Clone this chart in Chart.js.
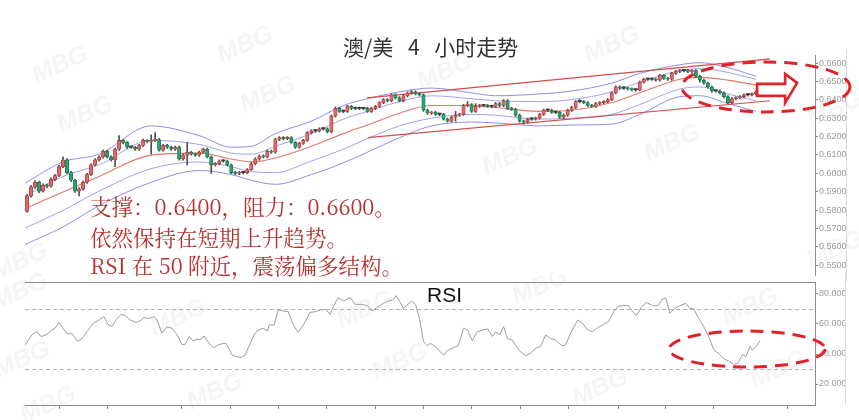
<!DOCTYPE html>
<html>
<head>
<meta charset="utf-8">
<script src="https://cdn.jsdelivr.net/npm/chart.js@4.4.1/dist/chart.umd.min.js"></script>
<style>
  html, body { margin: 0; padding: 0; background: #ffffff; }
  #wrap { position: relative; width: 859px; height: 420px; overflow: hidden; background: #ffffff; }
  #priceChart { position: absolute; left: 0; top: 0; }
  #rsiChart { position: absolute; left: 0; top: 272px; }
</style>
</head>
<body>
<div id="wrap">
  <canvas id="priceChart" width="859" height="282"></canvas>
  <canvas id="rsiChart" width="846" height="148"></canvas>
</div>
<script>
// ---- AUD/USD 4-hour candles (bar index 0 = oldest) ----
const opens = [
  .5792,.5877,.5925,.5951,.5903,.5935,.5930,.5967,.5988,.6036,
  .6073,.6004,.5962,.5903,.5914,.5951,.5993,.6046,.6073,.6089,
  .6120,.6089,.6073,.6131,.6179,.6168,.6142,.6142,.6131,.6152,
  .6179,.6173,.6179,.6184,.6126,.6152,.6142,.6131,.6142,.6078,
  .6099,.6115,.6104,.6099,.6115,.6131,.6089,.6046,.6052,.6067,
  .6067,.6046,.6004,.5999,.6004,.6004,.6020,.6052,.6078,.6094,
  .6089,.6120,.6115,.6184,.6194,.6189,.6194,.6168,.6142,.6163,
  .6179,.6221,.6231,.6231,.6242,.6242,.6226,.6311,.6353,.6337,
  .6337,.6364,.6353,.6353,.6353,.6353,.6337,.6353,.6364,.6385,
  .6401,.6395,.6427,.6411,.6395,.6422,.6438,.6443,.6432,.6427,
  .6343,.6327,.6332,.6321,.6321,.6295,.6284,.6305,.6316,.6321,
  .6369,.6374,.6337,.6364,.6369,.6369,.6364,.6364,.6380,.6369,
  .6395,.6353,.6348,.6316,.6284,.6279,.6295,.6295,.6300,.6321,
  .6343,.6343,.6332,.6332,.6305,.6316,.6343,.6358,.6390,.6390,
  .6385,.6369,.6364,.6380,.6385,.6390,.6401,.6438,.6470,.6464,
  .6464,.6459,.6454,.6454,.6496,.6512,.6512,.6512,.6507,.6533,
  .6517,.6512,.6544,.6554,.6559,.6559,.6554,.6559,.6528,.6507,
  .6491,.6470,.6448,.6448,.6438,.6417,.6385,.6406,.6411,.6417,
  .6427,.6427,.6432
];
const highs = [
  .5884,.5934,.5960,.5957,.5942,.5941,.5975,.5995,.6043,.6089,
  .6080,.6010,.5968,.5922,.5958,.6000,.6052,.6080,.6095,.6128,
  .6126,.6095,.6137,.6205,.6184,.6173,.6150,.6147,.6158,.6186,
  .6184,.6210,.6221,.6190,.6158,.6158,.6148,.6148,.6148,.6105,
  .6168,.6120,.6110,.6121,.6137,.6137,.6094,.6058,.6073,.6075,
  .6072,.6050,.6010,.6010,.6010,.6026,.6058,.6084,.6100,.6100,
  .6126,.6126,.6190,.6200,.6200,.6200,.6200,.6173,.6168,.6185,
  .6227,.6238,.6238,.6248,.6248,.6248,.6317,.6360,.6359,.6344,
  .6370,.6370,.6360,.6360,.6360,.6359,.6359,.6370,.6391,.6407,
  .6407,.6433,.6433,.6417,.6428,.6444,.6450,.6449,.6438,.6433,
  .6349,.6338,.6338,.6328,.6327,.6301,.6311,.6337,.6327,.6375,
  .6390,.6380,.6380,.6375,.6376,.6375,.6371,.6386,.6386,.6401,
  .6401,.6359,.6354,.6322,.6290,.6301,.6302,.6306,.6327,.6349,
  .6350,.6349,.6339,.6338,.6322,.6349,.6364,.6396,.6401,.6396,
  .6391,.6375,.6386,.6391,.6396,.6407,.6444,.6476,.6476,.6471,
  .6470,.6465,.6461,.6502,.6518,.6519,.6519,.6518,.6539,.6539,
  .6523,.6550,.6560,.6566,.6566,.6566,.6565,.6565,.6534,.6513,
  .6497,.6476,.6455,.6454,.6444,.6423,.6412,.6417,.6423,.6433,
  .6434,.6438,.6449
];
const lows = [
  .5788,.5870,.5918,.5895,.5897,.5922,.5925,.5960,.5982,.6030,
  .5998,.5955,.5896,.5877,.5908,.5945,.5988,.6040,.6066,.6082,
  .6082,.6066,.6036,.6125,.6160,.6135,.6135,.6124,.6125,.6146,
  .6165,.6104,.6173,.6120,.6120,.6136,.6125,.6125,.6072,.6072,
  .6046,.6098,.6092,.6092,.6110,.6083,.5999,.6040,.6046,.6060,
  .6040,.5998,.5993,.5993,.5997,.5998,.6015,.6046,.6072,.6083,
  .6083,.6108,.6110,.6178,.6183,.6183,.6162,.6136,.6136,.6157,
  .6173,.6215,.6224,.6225,.6235,.6220,.6220,.6305,.6331,.6330,
  .6331,.6347,.6346,.6346,.6346,.6331,.6331,.6347,.6358,.6379,
  .6389,.6389,.6405,.6389,.6389,.6416,.6432,.6426,.6421,.6337,
  .6321,.6321,.6315,.6314,.6289,.6278,.6278,.6284,.6310,.6315,
  .6363,.6331,.6331,.6358,.6362,.6358,.6357,.6358,.6363,.6363,
  .6347,.6342,.6310,.6278,.6268,.6273,.6288,.6289,.6294,.6315,
  .6336,.6326,.6325,.6299,.6299,.6310,.6337,.6352,.6383,.6379,
  .6363,.6358,.6358,.6374,.6379,.6384,.6395,.6432,.6458,.6457,
  .6453,.6448,.6447,.6448,.6490,.6505,.6505,.6501,.6501,.6511,
  .6506,.6506,.6538,.6548,.6552,.6548,.6548,.6522,.6496,.6485,
  .6464,.6442,.6441,.6432,.6411,.6379,.6379,.6400,.6405,.6411,
  .6420,.6421,.6426
];
const closes = [
  .5877,.5925,.5951,.5903,.5935,.5930,.5967,.5988,.6036,.6073,
  .6004,.5962,.5903,.5914,.5951,.5993,.6046,.6073,.6089,.6120,
  .6089,.6073,.6131,.6179,.6168,.6142,.6142,.6131,.6152,.6179,
  .6173,.6179,.6184,.6126,.6152,.6142,.6131,.6142,.6078,.6099,
  .6115,.6104,.6099,.6115,.6131,.6089,.6046,.6052,.6067,.6067,
  .6046,.6004,.5999,.6004,.6004,.6020,.6052,.6078,.6094,.6089,
  .6120,.6115,.6184,.6194,.6189,.6194,.6168,.6142,.6163,.6179,
  .6221,.6231,.6231,.6242,.6242,.6226,.6311,.6353,.6337,.6337,
  .6364,.6353,.6353,.6353,.6353,.6337,.6353,.6364,.6385,.6401,
  .6395,.6427,.6411,.6395,.6422,.6438,.6443,.6432,.6427,.6343,
  .6327,.6332,.6321,.6321,.6295,.6284,.6305,.6316,.6321,.6369,
  .6374,.6337,.6364,.6369,.6369,.6364,.6364,.6380,.6369,.6395,
  .6353,.6348,.6316,.6284,.6279,.6295,.6295,.6300,.6321,.6343,
  .6343,.6332,.6332,.6305,.6316,.6343,.6358,.6390,.6390,.6385,
  .6369,.6364,.6380,.6385,.6390,.6401,.6438,.6470,.6464,.6464,
  .6459,.6454,.6454,.6496,.6512,.6512,.6512,.6507,.6533,.6517,
  .6512,.6544,.6554,.6559,.6559,.6554,.6559,.6528,.6507,.6491,
  .6470,.6448,.6448,.6438,.6417,.6385,.6406,.6411,.6417,.6427,
  .6427,.6432,.6443
];

// ---- Bollinger-style bands, sampled at these bar indices ----
const bandIdx   = [-0.5, 9, 18, 31, 43, 51, 56, 62, 71, 79, 85, 93, 101, 111, 117, 128, 136, 146, 153, 163, 168, 175, 182];
const bandUpper2 = [.5946,.6062,.6104,.6258,.6205,.6142,.6147,.6216,.6284,.6369,.6406,.6443,.6464,.6438,.6422,.6432,.6448,.6491,.6544,.6591,.6602,.6575,.6528];
const bandUpper1 = [.5877,.5983,.6046,.6179,.6157,.6110,.6104,.6147,.6216,.6295,.6337,.6390,.6422,.6406,.6395,.6390,.6401,.6443,.6496,.6559,.6570,.6549,.6512];
const bandMiddle = [.5808,.5898,.5983,.6099,.6110,.6078,.6062,.6083,.6147,.6216,.6263,.6327,.6369,.6369,.6358,.6337,.6343,.6385,.6438,.6512,.6522,.6507,.6480];
const bandLower1 = [.5702,.5798,.5903,.6025,.6062,.6036,.6009,.6004,.6067,.6131,.6189,.6258,.6300,.6321,.6316,.6295,.6300,.6321,.6374,.6459,.6470,.6432,.6395];
const bandLower2 = [.5612,.5708,.5824,.5951,.6015,.5993,.5962,.5940,.5993,.6057,.6115,.6194,.6258,.6279,.6274,.6258,.6263,.6268,.6321,.6417,.6422,.6380,.6337];

// ---- rising channel lines (start / end bar index and price) ----
const channelUpperIdx = [84.9, 185.5];
const channelUpperVal = [0.6411, 0.6623];
const channelLowerIdx = [85.1, 185.5];
const channelLowerVal = [0.6194, 0.6395];

// ---- RSI readings ----
const rsiIdx = [
  -0.5,1.2,2.5,3.5,5,6.2,7,8,9,10.2,
  11.2,12.5,13.7,15,16.5,18,19.2,20.2,21.2,22.5,
  23.5,24.5,25.7,27.2,28.2,29.2,30.5,31.7,32.5,33.7,
  35,36.2,37.5,38.7,39.5,40.5,41.5,42.5,43.2,44.2,
  45.2,46.5,47.7,49,49.7,51.2,52.5,53.5,54.5,55.7,
  56.7,57.7,59,60,60.5,61.7,62.7,64,65.2,66.5,
  67.7,69,70.7,72,73.2,74.5,75.7,76.5,77.7,79,
  80.7,82,83.7,85,86.2,87.7,89,90.2,91.2,92.2,
  94,96,97,98,99,100,100.7,102,102.7,104,
  105.2,106.5,107.7,109,110,111.2,112.2,113.7,115,116.2,
  117,118,119,120,121.2,122.2,123.2,124.5,125.7,127.2,
  128.2,129.5,130.7,132,133.5,134.5,135.7,137.5,138.7,140,
  141.2,142.5,144,145.2,146.5,147.5,148.7,150.2,151.2,152.2,
  153.5,154.7,156.2,157.5,158.7,159.5,160.5,161.7,163,164.5,
  165.5,166.5,167.7,169,170.2,171.5,172.7,174,175.2,176.5,
  177.5,178.7,179.5,180.5,181.2,182,183
];
const rsiVal = [
  46.0,52.7,54.9,51.6,53.1,56.0,57.1,61.1,57.1,53.1,
  53.8,48.7,50.0,54.9,60.4,62.7,64.9,59.8,58.2,63.8,
  66.4,65.6,62.7,61.1,62.0,64.2,63.8,64.9,62.7,53.8,
  58.2,57.1,52.7,46.4,46.4,51.6,48.7,50.0,49.3,52.0,
  48.2,44.2,46.0,47.1,47.1,39.3,38.2,37.6,39.3,47.1,
  52.7,56.0,57.1,55.3,59.3,59.3,69.3,68.7,68.2,59.3,
  54.4,59.3,67.8,68.2,69.3,70.0,66.4,71.6,77.6,75.3,
  77.6,73.1,73.1,72.2,68.7,71.6,73.8,75.3,76.0,78.9,
  70.4,75.3,73.1,63.8,48.2,45.5,47.1,44.9,42.7,39.3,
  42.7,44.2,45.5,57.1,56.0,48.7,54.4,56.0,56.7,51.6,
  54.9,52.7,58.2,50.0,49.3,44.9,41.6,38.9,40.4,44.2,
  44.9,52.7,50.4,49.3,45.5,46.0,53.8,62.7,60.4,56.0,
  54.9,57.6,59.8,61.6,68.2,71.6,72.2,72.2,68.2,65.6,
  71.6,74.4,72.2,72.2,76.7,77.1,67.1,70.4,72.2,73.8,
  70.4,70.0,63.8,58.2,51.6,42.7,40.4,36.7,35.3,33.1,
  33.8,39.8,38.2,44.9,42.7,44.9,48.7
];
const rsiLevels = [70, 30];

// ---- axis ticks ----
const priceTicks = [0.55, 0.56, 0.57, 0.58, 0.59, 0.60, 0.61, 0.62, 0.63, 0.64, 0.65, 0.66];
const rsiTicks = [20, 40, 60, 80];
const sessionTickIdx = [8.2, 20.2, 38.7, 50.7, 62.7, 74.9, 86.9, 98.9, 111.1, 123.1, 135.1, 147.6, 159.5, 171.5, 189.8];

// ---- texts ----
const titleText = '澳/美 4 小时走势';
const noteLines = ['支撑：0.6400，阻力：0.6600。', '依然保持在短期上升趋势。', 'RSI 在 50 附近，震荡偏多结构。'];
const rsiLabel = 'RSI';
const watermarkText = 'MBG';

// ---------------------------------------------------------------
const IDX_MIN = -0.5, IDX_MAX = 196.75;
const AXIS_GREY = '#8c8c8c';
const LABEL_GREY = '#9a9a9a';
const MARK_RED = '#e2222a';

// highlight shapes: centre in data units, size in pixels
const priceRing = { idx: 184.5, value: 0.6470, rx: 84, ry: 25 };
const rsiRing = { idx: 179.8, value: 43.3, rx: 78, ry: 18 };
const arrowAnchor = { idx: 182.3, value: 0.6454 };
const arrowShape = [[0,-6],[28,-6],[28,-16],[40,-7],[28,13],[28,6],[0,6]];

const watermarkSpots = [
  [60,65],[85,115],[245,45],[268,95],[445,72],[510,157],[612,45],[672,143],
  [835,110],[835,250],[20,262],[20,292],[22,360],[178,318],[215,392],[365,310],
  [400,362],[48,405],[540,287],[600,388],[750,307],[778,370]
];

function drawWatermarks(ctx, offsetY, pick) {
  ctx.save();
  ctx.fillStyle = 'rgba(0,0,0,0.04)';
  ctx.font = 'italic bold 25px "Liberation Sans", Arial, sans-serif';
  ctx.textAlign = 'center';
  ctx.textBaseline = 'middle';
  watermarkSpots.filter(pick).forEach(([x, y]) => {
    ctx.save();
    ctx.translate(x, y - offsetY);
    ctx.rotate(-0.42);
    ctx.fillText(watermarkText, 0, 0);
    ctx.restore();
  });
  ctx.restore();
}

function dashedRing(ctx, cx, cy, rx, ry) {
  ctx.save();
  ctx.strokeStyle = MARK_RED;
  ctx.lineWidth = 3;
  ctx.setLineDash([13, 8]);
  ctx.beginPath();
  ctx.ellipse(cx, cy, rx, ry, 0, 0, Math.PI * 2);
  ctx.stroke();
  ctx.restore();
}

const priceDecor = {
  id: 'priceDecor',
  beforeDraw(chart) {
    drawWatermarks(chart.ctx, 0, ([x, y]) => y < 277);
  },
  afterDraw(chart) {
    const ctx = chart.ctx;
    const xs = chart.scales.x, ys = chart.scales.y;

    // title
    ctx.save();
    ctx.fillStyle = '#333333';
    ctx.font = '21px "Noto Sans CJK SC", sans-serif';
    ctx.textAlign = 'left';
    ctx.textBaseline = 'middle';
    if ('wordSpacing' in ctx) ctx.wordSpacing = '10px';
    ctx.fillText(titleText, 343, 47.5);
    ctx.restore();

    // commentary
    ctx.save();
    ctx.fillStyle = '#b5302e';
    ctx.font = '21.5px "Noto Serif CJK SC", "Liberation Serif", "Noto Sans CJK SC", serif';
    ctx.textAlign = 'left';
    ctx.textBaseline = 'middle';
    const rows = [206.5, 237.5, 265.5];
    noteLines.forEach((t, i) => ctx.fillText(t, 90, rows[i]));
    ctx.restore();

    // right frame edge
    ctx.save();
    ctx.strokeStyle = '#dddddd';
    ctx.lineWidth = 1;
    ctx.beginPath();
    ctx.moveTo(846.5, 50);
    ctx.lineTo(846.5, 282);
    ctx.stroke();
    ctx.restore();

    // highlight ring around the latest bars
    dashedRing(ctx, xs.getPixelForValue(priceRing.idx), ys.getPixelForValue(priceRing.value), priceRing.rx, priceRing.ry);

    // hollow arrow pointing ahead
    const ax = xs.getPixelForValue(arrowAnchor.idx);
    const ay = ys.getPixelForValue(arrowAnchor.value);
    ctx.save();
    ctx.beginPath();
    arrowShape.forEach(([dx, dy], k) => (k ? ctx.lineTo(ax + dx, ay + dy) : ctx.moveTo(ax + dx, ay + dy)));
    ctx.closePath();
    ctx.fillStyle = '#ffffff';
    ctx.fill();
    ctx.strokeStyle = MARK_RED;
    ctx.lineWidth = 2.6;
    ctx.lineJoin = 'miter';
    ctx.stroke();
    ctx.restore();
  }
};

const rsiDecor = {
  id: 'rsiDecor',
  beforeDraw(chart) {
    drawWatermarks(chart.ctx, 272, ([x, y]) => y >= 277);
  },
  beforeDatasetsDraw(chart) {
    const ctx = chart.ctx, a = chart.chartArea, ys = chart.scales.y;
    ctx.save();
    ctx.strokeStyle = '#b4b4b4';
    ctx.lineWidth = 1;
    ctx.setLineDash([4, 3]);
    rsiLevels.forEach(v => {
      const y = Math.round(ys.getPixelForValue(v)) + 0.5;
      ctx.beginPath();
      ctx.moveTo(a.left, y);
      ctx.lineTo(a.right, y);
      ctx.stroke();
    });
    ctx.restore();
  },
  afterDraw(chart) {
    const ctx = chart.ctx, a = chart.chartArea;
    const xs = chart.scales.x, ys = chart.scales.y;
    // panel separator
    ctx.save();
    ctx.strokeStyle = AXIS_GREY;
    ctx.lineWidth = 1;
    ctx.beginPath();
    ctx.moveTo(a.left, a.top + 0.5);
    ctx.lineTo(a.right, a.top + 0.5);
    ctx.stroke();
    ctx.strokeStyle = '#dddddd';
    ctx.beginPath();
    ctx.moveTo(845.5, 0);
    ctx.lineTo(845.5, a.bottom);
    ctx.stroke();
    ctx.restore();

    ctx.save();
    ctx.fillStyle = '#111111';
    ctx.font = '21px "Liberation Sans", Arial, sans-serif';
    ctx.textAlign = 'left';
    ctx.textBaseline = 'middle';
    ctx.fillText(rsiLabel, 427, 24);
    ctx.restore();

    dashedRing(ctx, xs.getPixelForValue(rsiRing.idx), ys.getPixelForValue(rsiRing.value), rsiRing.rx, rsiRing.ry);
  }
};

// ---- candle styling from direction ----
const UP_FILL = '#dc6c6a', UP_EDGE = '#b33b3a';
const DN_FILL = '#26a36f', DN_EDGE = '#1b7a52';
const FLAT = '#3c3c3c';
const bodyFill = closes.map((c, i) => c > opens[i] ? UP_FILL : c < opens[i] ? DN_FILL : FLAT);
const bodyEdge = closes.map((c, i) => c > opens[i] ? UP_EDGE : c < opens[i] ? DN_EDGE : FLAT);
const bodyBorder = closes.map((c, i) => c === opens[i] ? 0 : 0.8);

const toPoints = (xsArr, ysArr) => xsArr.map((x, k) => ({ x, y: ysArr[k] }));
const bandLine = (arr, color, width) => ({
  type: 'line', data: toPoints(bandIdx, arr), borderColor: color, borderWidth: width,
  pointRadius: 0, cubicInterpolationMode: 'monotone', fill: false, order: 4
});
const channelLine = (ix, iv) => ({
  type: 'line', data: toPoints(ix, iv), borderColor: '#d84a4a', borderWidth: 1.2,
  pointRadius: 0, tension: 0, fill: false, order: 3
});

Chart.defaults.font.family = '"Liberation Sans", Arial, sans-serif';

new Chart(document.getElementById('priceChart'), {
  type: 'line',
  data: {
    datasets: [
      {
        type: 'bar', label: 'body',
        data: closes.map((c, i) => ({ x: i, y: [opens[i], c] })),
        backgroundColor: bodyFill, borderColor: bodyEdge, borderWidth: bodyBorder,
        borderSkipped: false, barThickness: 3.4, minBarLength: 1.2, grouped: false, order: 0
      },
      {
        type: 'bar', label: 'wick',
        data: closes.map((c, i) => ({ x: i, y: [lows[i], highs[i]] })),
        backgroundColor: '#505050', borderWidth: 0, barThickness: 1, grouped: false, order: 1
      },
      channelLine(channelUpperIdx, channelUpperVal),
      channelLine(channelLowerIdx, channelLowerVal),
      bandLine(bandUpper2, '#8e8ee4', 1),
      bandLine(bandUpper1, '#a3a3ea', 1),
      bandLine(bandMiddle, '#e5766c', 1.1),
      bandLine(bandLower1, '#a3a3ea', 1),
      bandLine(bandLower2, '#8e8ee4', 1)
    ]
  },
  options: {
    responsive: false, animation: false, devicePixelRatio: 1, events: [],
    layout: { padding: { left: 25, top: 55, right: 0, bottom: 0 } },
    plugins: { legend: { display: false }, tooltip: { enabled: false } },
    scales: {
      x: { type: 'linear', display: false, min: IDX_MIN, max: IDX_MAX, offset: false, grid: { offset: false } },
      y: {
        type: 'linear', position: 'right', min: 0.5443, max: 0.6644,
        afterBuildTicks: s => { s.ticks = priceTicks.map(v => ({ value: v })); },
        afterFit: s => { s.width = 44; },
        border: { display: true, color: AXIS_GREY, width: 1 },
        grid: { drawOnChartArea: false, drawTicks: true, tickLength: 3, color: AXIS_GREY },
        ticks: { autoSkip: false, padding: 1, color: LABEL_GREY, font: { size: 9 }, callback: v => Number(v).toFixed(4) }
      }
    }
  },
  plugins: [priceDecor]
});

new Chart(document.getElementById('rsiChart'), {
  type: 'line',
  data: {
    datasets: [{
      label: 'RSI', data: toPoints(rsiIdx, rsiVal), borderColor: '#a796a6', borderWidth: 1,
      pointRadius: 0, tension: 0, fill: false
    }]
  },
  options: {
    responsive: false, animation: false, devicePixelRatio: 1, events: [],
    layout: { padding: { left: 25, top: 10, right: 0, bottom: 0 } },
    plugins: { legend: { display: false }, tooltip: { enabled: false } },
    scales: {
      x: {
        type: 'linear', min: IDX_MIN, max: IDX_MAX, offset: false,
        afterBuildTicks: s => { s.ticks = sessionTickIdx.map(v => ({ value: v })); },
        afterFit: s => { s.height = 15; },
        border: { display: true, color: AXIS_GREY, width: 1 },
        grid: { drawOnChartArea: false, drawTicks: true, tickLength: 4, color: AXIS_GREY, offset: false },
        ticks: { display: false }
      },
      y: {
        type: 'linear', position: 'right', min: 6, max: 88,
        afterBuildTicks: s => { s.ticks = rsiTicks.map(v => ({ value: v })); },
        afterFit: s => { s.width = 31; },
        border: { display: true, color: AXIS_GREY, width: 1 },
        grid: { drawOnChartArea: false, drawTicks: true, tickLength: 3, color: AXIS_GREY },
        ticks: { autoSkip: false, padding: 1, color: LABEL_GREY, font: { size: 9 }, callback: v => Number(v).toFixed(4) }
      }
    }
  },
  plugins: [rsiDecor]
});
</script>
</body>
</html>
